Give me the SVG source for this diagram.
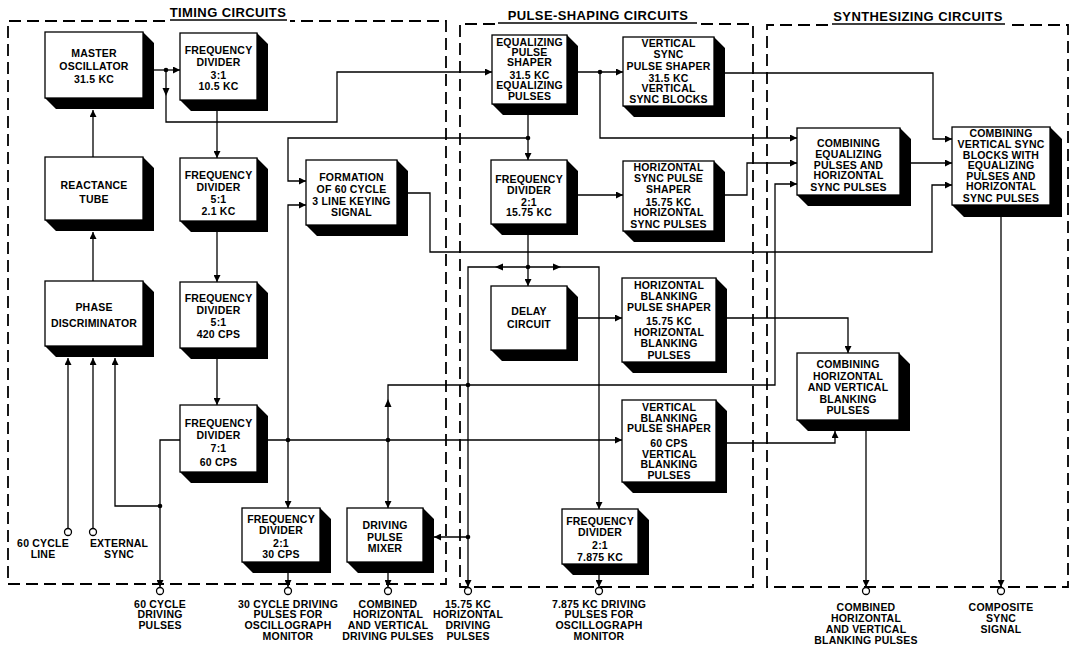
<svg xmlns="http://www.w3.org/2000/svg" width="1072" height="647" viewBox="0 0 1072 647">
<style>
.box{fill:#fff;stroke:#000;stroke-width:1.3}
.sh{fill:#000}
.t{font-family:"Liberation Sans",Arial,sans-serif;font-weight:bold;font-size:10.5px;text-anchor:middle;fill:#000;letter-spacing:0.2px}
.ttl{font-family:"Liberation Sans",Arial,sans-serif;font-weight:bold;font-size:13px;text-anchor:middle;fill:#000;letter-spacing:0.4px}
.frame{fill:none;stroke:#000;stroke-width:1.8;stroke-dasharray:12 6}
.ul{stroke:#000;stroke-width:1.6}
.c{fill:none;stroke:#000;stroke-width:1.3}
.ah{fill:#000}
.dot{fill:#000}
.term{fill:#fff;stroke:#000;stroke-width:1.3}
</style>
<defs>
<marker id="arr" viewBox="0 0 10 10" refX="10" refY="5" markerWidth="8" markerHeight="7" markerUnits="userSpaceOnUse" orient="auto">
<path d="M0,0 L10,5 L0,10 z" fill="#000"/>
</marker>
</defs>
<rect width="1072" height="647" fill="#fff"/>

<g id="groups">
<path class="frame" d="M165,21 H8 V584 H446 V21 H290"/>
<text class="ttl" x="228" y="17">TIMING CIRCUITS</text>
<line class="ul" x1="170" y1="20" x2="287" y2="20"/>
<path class="frame" d="M495,24 H460 V587 H753 V24 H700"/>
<text class="ttl" x="598" y="20">PULSE-SHAPING CIRCUITS</text>
<line class="ul" x1="498" y1="23" x2="697" y2="23"/>
<path class="frame" d="M828,25 H767 V587 H1068 V25 H1008"/>
<text class="ttl" x="918" y="21">SYNTHESIZING CIRCUITS</text>
<line class="ul" x1="832" y1="24" x2="1005" y2="24"/>
</g>

<g id="connectors">
<path class="c" d="M154,70 H180" marker-end="url(#arr)"/>
<path class="c" d="M166,70 V122 H337 V72 H492" marker-end="url(#arr)"/>
<polygon class="ah" points="162.5,88 169.5,88 166,96"/>
<circle class="dot" cx="166" cy="70" r="2.3"/>
<path class="c" d="M93,157 V110" marker-end="url(#arr)"/>
<path class="c" d="M93,281 V232" marker-end="url(#arr)"/>
<path class="c" d="M68,528 V358" marker-end="url(#arr)"/>
<path class="c" d="M93,528 V358" marker-end="url(#arr)"/>
<path class="c" d="M160,506 H115 V358" marker-end="url(#arr)"/>
<circle class="dot" cx="160" cy="506" r="2.3"/>
<path class="c" d="M180,440 H160 V587" marker-end="url(#arr)"/>
<path class="c" d="M217,111 V158" marker-end="url(#arr)"/>
<path class="c" d="M217,232 V282" marker-end="url(#arr)"/>
<path class="c" d="M217,359 V405" marker-end="url(#arr)"/>
<path class="c" d="M268,440 H622" marker-end="url(#arr)"/>
<path class="c" d="M528,138 H288 V181 H306" marker-end="url(#arr)"/>
<path class="c" d="M288,440 V205 H306" marker-end="url(#arr)"/>
<path class="c" d="M288,440 V508" marker-end="url(#arr)"/>
<circle class="dot" cx="288" cy="440" r="2.3"/>
<path class="c" d="M388,440 V508" marker-end="url(#arr)"/>
<path class="c" d="M388,440 V385 H775 V184 H797" marker-end="url(#arr)"/>
<polygon class="ah" points="384.5,407 391.5,407 388,399"/>
<circle class="dot" cx="388" cy="440" r="2.3"/>
<path class="c" d="M528,115 V160" marker-end="url(#arr)"/>
<circle class="dot" cx="528" cy="138" r="2.3"/>
<path class="c" d="M578,72 H623" marker-end="url(#arr)"/>
<path class="c" d="M600,72 V138 H797" marker-end="url(#arr)"/>
<circle class="dot" cx="600" cy="72" r="2.3"/>
<path class="c" d="M725,73 H933 V139 H952" marker-end="url(#arr)"/>
<path class="c" d="M578,195 H623" marker-end="url(#arr)"/>
<path class="c" d="M725,195 H747 V163 H797" marker-end="url(#arr)"/>
<path class="c" d="M911,163 H952" marker-end="url(#arr)"/>
<path class="c" d="M408,193 H430 V252 H932 V185 H952" marker-end="url(#arr)"/>
<path class="c" d="M528,235 V286" marker-end="url(#arr)"/>
<path class="c" d="M528,267 H468 V587" marker-end="url(#arr)"/>
<polygon class="ah" points="503,263.5 503,270.5 495,267"/>
<path class="c" d="M528,267 H599 V509" marker-end="url(#arr)"/>
<polygon class="ah" points="553,263.5 553,270.5 561,267"/>
<circle class="dot" cx="528" cy="267" r="2.3"/>
<path class="c" d="M468,537 H434" marker-end="url(#arr)"/>
<circle class="dot" cx="468" cy="537" r="2.3"/>
<circle class="dot" cx="468" cy="385" r="2.3"/>
<path class="c" d="M578,318 H622" marker-end="url(#arr)"/>
<path class="c" d="M727,318 H848 V353" marker-end="url(#arr)"/>
<path class="c" d="M727,443 H835 V431" marker-end="url(#arr)"/>
<path class="c" d="M866,431 V587" marker-end="url(#arr)"/>
<path class="c" d="M1001,217 V587" marker-end="url(#arr)"/>
<path class="c" d="M288,573 V587" marker-end="url(#arr)"/>
<path class="c" d="M388,573 V587" marker-end="url(#arr)"/>
<path class="c" d="M599,575 V587" marker-end="url(#arr)"/>
</g>

<g id="master-oscillator">
<polygon class="sh" points="143,32 154,43 154,109 56,109 45,98 143,98"/>
<rect class="box" x="45" y="32" width="98" height="66"/>
<text class="t" x="94" y="57">MASTER</text>
<text class="t" x="94" y="70">OSCILLATOR</text>
<text class="t" x="94" y="83">31.5 KC</text>
</g>
<g id="reactance-tube">
<polygon class="sh" points="143,157 154,168 154,231 56,231 45,220 143,220"/>
<rect class="box" x="45" y="157" width="98" height="63"/>
<text class="t" x="94" y="189">REACTANCE</text>
<text class="t" x="94" y="203">TUBE</text>
</g>
<g id="phase-discriminator">
<polygon class="sh" points="143,281 154,292 154,357 56,357 45,346 143,346"/>
<rect class="box" x="45" y="281" width="98" height="65"/>
<text class="t" x="94" y="311">PHASE</text>
<text class="t" x="94" y="327">DISCRIMINATOR</text>
</g>
<g id="freq-div-3">
<polygon class="sh" points="257,33 268,44 268,111 191,111 180,100 257,100"/>
<rect class="box" x="180" y="33" width="77" height="67"/>
<text class="t" x="218.5" y="54">FREQUENCY</text>
<text class="t" x="218.5" y="66">DIVIDER</text>
<text class="t" x="218.5" y="79">3:1</text>
<text class="t" x="218.5" y="90">10.5 KC</text>
</g>
<g id="freq-div-5a">
<polygon class="sh" points="257,158 268,169 268,232 191,232 180,221 257,221"/>
<rect class="box" x="180" y="158" width="77" height="63"/>
<text class="t" x="218.5" y="179">FREQUENCY</text>
<text class="t" x="218.5" y="191">DIVIDER</text>
<text class="t" x="218.5" y="203">5:1</text>
<text class="t" x="218.5" y="215">2.1 KC</text>
</g>
<g id="freq-div-5b">
<polygon class="sh" points="257,282 268,293 268,359 191,359 180,348 257,348"/>
<rect class="box" x="180" y="282" width="77" height="66"/>
<text class="t" x="218.5" y="302">FREQUENCY</text>
<text class="t" x="218.5" y="314">DIVIDER</text>
<text class="t" x="218.5" y="326">5:1</text>
<text class="t" x="218.5" y="338">420 CPS</text>
</g>
<g id="freq-div-7">
<polygon class="sh" points="257,405 268,416 268,483 191,483 180,472 257,472"/>
<rect class="box" x="180" y="405" width="77" height="67"/>
<text class="t" x="218.5" y="427">FREQUENCY</text>
<text class="t" x="218.5" y="439">DIVIDER</text>
<text class="t" x="218.5" y="452">7:1</text>
<text class="t" x="218.5" y="466">60 CPS</text>
</g>
<g id="freq-div-2-30">
<polygon class="sh" points="320,508 331,519 331,573 253,573 242,562 320,562"/>
<rect class="box" x="242" y="508" width="78" height="54"/>
<text class="t" x="281" y="523">FREQUENCY</text>
<text class="t" x="281" y="534">DIVIDER</text>
<text class="t" x="281" y="547">2:1</text>
<text class="t" x="281" y="558">30 CPS</text>
</g>
<g id="driving-pulse-mixer">
<polygon class="sh" points="423,508 434,519 434,573 358,573 347,562 423,562"/>
<rect class="box" x="347" y="508" width="76" height="54"/>
<text class="t" x="385" y="529">DRIVING</text>
<text class="t" x="385" y="541">PULSE</text>
<text class="t" x="385" y="552">MIXER</text>
</g>
<g id="formation-keying">
<polygon class="sh" points="397,160 408,171 408,236 317,236 306,225 397,225"/>
<rect class="box" x="306" y="160" width="91" height="65"/>
<text class="t" x="351.5" y="181">FORMATION</text>
<text class="t" x="351.5" y="193">OF 60 CYCLE</text>
<text class="t" x="351.5" y="205">3 LINE KEYING</text>
<text class="t" x="351.5" y="216">SIGNAL</text>
</g>
<g id="equalizing-pulse-shaper">
<polygon class="sh" points="567,35 578,46 578,115 503,115 492,104 567,104"/>
<rect class="box" x="492" y="35" width="75" height="69"/>
<text class="t" x="529.5" y="46">EQUALIZING</text>
<text class="t" x="529.5" y="56">PULSE</text>
<text class="t" x="529.5" y="66">SHAPER</text>
<text class="t" x="529.5" y="79">31.5 KC</text>
<text class="t" x="529.5" y="89">EQUALIZING</text>
<text class="t" x="529.5" y="100">PULSES</text>
</g>
<g id="freq-div-2-15">
<polygon class="sh" points="567,160 578,171 578,235 502,235 491,224 567,224"/>
<rect class="box" x="491" y="160" width="76" height="64"/>
<text class="t" x="529" y="183">FREQUENCY</text>
<text class="t" x="529" y="194">DIVIDER</text>
<text class="t" x="529" y="206">2:1</text>
<text class="t" x="529" y="216">15.75 KC</text>
</g>
<g id="delay-circuit">
<polygon class="sh" points="567,286 578,297 578,361 502,361 491,350 567,350"/>
<rect class="box" x="491" y="286" width="76" height="64"/>
<text class="t" x="529" y="315">DELAY</text>
<text class="t" x="529" y="328">CIRCUIT</text>
</g>
<g id="vertical-sync-pulse-shaper">
<polygon class="sh" points="714,37 725,48 725,117 634,117 623,106 714,106"/>
<rect class="box" x="623" y="37" width="91" height="69"/>
<text class="t" x="668.5" y="47">VERTICAL</text>
<text class="t" x="668.5" y="58">SYNC</text>
<text class="t" x="668.5" y="70">PULSE SHAPER</text>
<text class="t" x="668.5" y="82">31.5 KC</text>
<text class="t" x="668.5" y="92">VERTICAL</text>
<text class="t" x="668.5" y="103">SYNC BLOCKS</text>
</g>
<g id="horizontal-sync-pulse-shaper">
<polygon class="sh" points="714,161 725,172 725,242 634,242 623,231 714,231"/>
<rect class="box" x="623" y="161" width="91" height="70"/>
<text class="t" x="668.5" y="171">HORIZONTAL</text>
<text class="t" x="668.5" y="182">SYNC PULSE</text>
<text class="t" x="668.5" y="193">SHAPER</text>
<text class="t" x="668.5" y="206">15.75 KC</text>
<text class="t" x="668.5" y="216">HORIZONTAL</text>
<text class="t" x="668.5" y="228">SYNC PULSES</text>
</g>
<g id="horizontal-blanking-pulse-shaper">
<polygon class="sh" points="716,278 727,289 727,373 633,373 622,362 716,362"/>
<rect class="box" x="622" y="278" width="94" height="84"/>
<text class="t" x="669" y="289">HORIZONTAL</text>
<text class="t" x="669" y="300">BLANKING</text>
<text class="t" x="669" y="311">PULSE SHAPER</text>
<text class="t" x="669" y="325">15.75 KC</text>
<text class="t" x="669" y="336">HORIZONTAL</text>
<text class="t" x="669" y="347">BLANKING</text>
<text class="t" x="669" y="359">PULSES</text>
</g>
<g id="vertical-blanking-pulse-shaper">
<polygon class="sh" points="716,400 727,411 727,493 633,493 622,482 716,482"/>
<rect class="box" x="622" y="400" width="94" height="82"/>
<text class="t" x="669" y="411">VERTICAL</text>
<text class="t" x="669" y="422">BLANKING</text>
<text class="t" x="669" y="432">PULSE SHAPER</text>
<text class="t" x="669" y="447">60 CPS</text>
<text class="t" x="669" y="458">VERTICAL</text>
<text class="t" x="669" y="468">BLANKING</text>
<text class="t" x="669" y="479">PULSES</text>
</g>
<g id="freq-div-2-7875">
<polygon class="sh" points="638,509 649,520 649,575 573,575 562,564 638,564"/>
<rect class="box" x="562" y="509" width="76" height="55"/>
<text class="t" x="600" y="525">FREQUENCY</text>
<text class="t" x="600" y="536">DIVIDER</text>
<text class="t" x="600" y="549">2:1</text>
<text class="t" x="600" y="561">7.875 KC</text>
</g>
<g id="combining-eq-hsync">
<polygon class="sh" points="900,128 911,139 911,206 808,206 797,195 900,195"/>
<rect class="box" x="797" y="128" width="103" height="67"/>
<text class="t" x="848.5" y="147">COMBINING</text>
<text class="t" x="848.5" y="158">EQUALIZING</text>
<text class="t" x="848.5" y="169">PULSES AND</text>
<text class="t" x="848.5" y="179">HORIZONTAL</text>
<text class="t" x="848.5" y="191">SYNC PULSES</text>
</g>
<g id="combining-vsync">
<polygon class="sh" points="1050,127 1062,139 1062,217 964,217 952,205 1050,205"/>
<rect class="box" x="952" y="127" width="98" height="78"/>
<text class="t" x="1001" y="137">COMBINING</text>
<text class="t" x="1001" y="148">VERTICAL SYNC</text>
<text class="t" x="1001" y="159">BLOCKS WITH</text>
<text class="t" x="1001" y="169">EQUALIZING</text>
<text class="t" x="1001" y="180">PULSES AND</text>
<text class="t" x="1001" y="190">HORIZONTAL</text>
<text class="t" x="1001" y="202">SYNC PULSES</text>
</g>
<g id="combining-blanking">
<polygon class="sh" points="899,353 910,364 910,431 808,431 797,420 899,420"/>
<rect class="box" x="797" y="353" width="102" height="67"/>
<text class="t" x="848" y="368">COMBINING</text>
<text class="t" x="848" y="380">HORIZONTAL</text>
<text class="t" x="848" y="391">AND VERTICAL</text>
<text class="t" x="848" y="403">BLANKING</text>
<text class="t" x="848" y="414">PULSES</text>
</g>

<g id="term-60-cycle-line">
<circle class="term" cx="68" cy="532" r="3.5"/>
<text class="t" x="43" y="547">60 CYCLE</text>
<text class="t" x="43" y="558">LINE</text>
</g>
<g id="term-external-sync">
<circle class="term" cx="93" cy="532" r="3.5"/>
<text class="t" x="119" y="547">EXTERNAL</text>
<text class="t" x="119" y="558">SYNC</text>
</g>
<g id="term-60-cycle-driving">
<circle class="term" cx="160" cy="591" r="3.5"/>
<text class="t" x="160" y="608">60 CYCLE</text>
<text class="t" x="160" y="618">DRIVING</text>
<text class="t" x="160" y="629">PULSES</text>
</g>
<g id="term-30-cycle">
<circle class="term" cx="288" cy="591" r="3.5"/>
<text class="t" x="288" y="608">30 CYCLE DRIVING</text>
<text class="t" x="288" y="618">PULSES FOR</text>
<text class="t" x="288" y="629">OSCILLOGRAPH</text>
<text class="t" x="288" y="640">MONITOR</text>
</g>
<g id="term-combined-driving">
<circle class="term" cx="388" cy="591" r="3.5"/>
<text class="t" x="388" y="608">COMBINED</text>
<text class="t" x="388" y="618">HORIZONTAL</text>
<text class="t" x="388" y="629">AND VERTICAL</text>
<text class="t" x="388" y="640">DRIVING PULSES</text>
</g>
<g id="term-15-75">
<circle class="term" cx="468" cy="591" r="3.5"/>
<text class="t" x="468" y="608">15.75 KC</text>
<text class="t" x="468" y="618">HORIZONTAL</text>
<text class="t" x="468" y="629">DRIVING</text>
<text class="t" x="468" y="640">PULSES</text>
</g>
<g id="term-7-875">
<circle class="term" cx="599" cy="591" r="3.5"/>
<text class="t" x="599" y="608">7.875 KC DRIVING</text>
<text class="t" x="599" y="618">PULSES FOR</text>
<text class="t" x="599" y="629">OSCILLOGRAPH</text>
<text class="t" x="599" y="640">MONITOR</text>
</g>
<g id="term-combined-blanking">
<circle class="term" cx="866" cy="591" r="3.5"/>
<text class="t" x="866" y="611">COMBINED</text>
<text class="t" x="866" y="622">HORIZONTAL</text>
<text class="t" x="866" y="633">AND VERTICAL</text>
<text class="t" x="866" y="644">BLANKING PULSES</text>
</g>
<g id="term-composite-sync">
<circle class="term" cx="1001" cy="591" r="3.5"/>
<text class="t" x="1001" y="611">COMPOSITE</text>
<text class="t" x="1001" y="622">SYNC</text>
<text class="t" x="1001" y="633">SIGNAL</text>
</g>
</svg>
